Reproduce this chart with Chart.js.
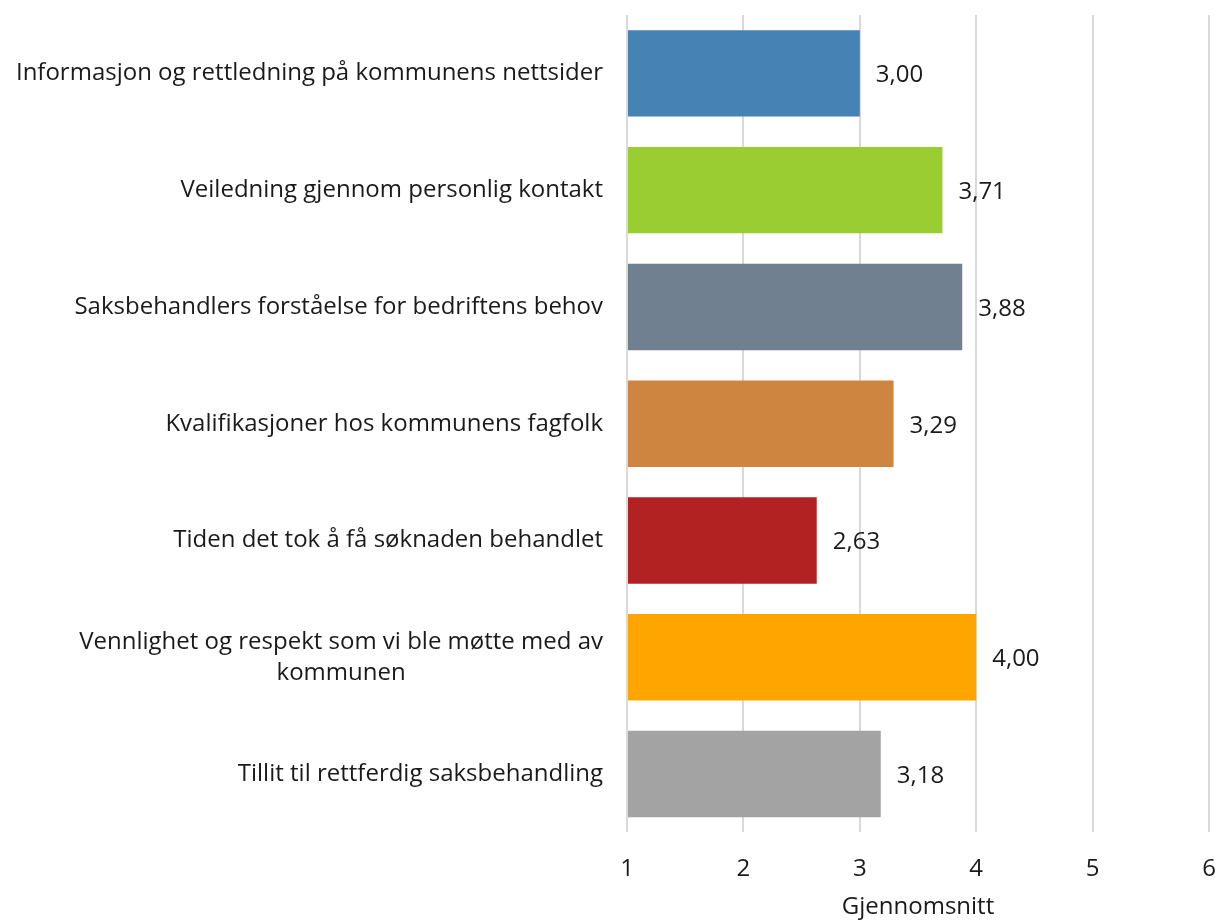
<!DOCTYPE html>
<html>
<head>
<meta charset="utf-8">
<script src="https://cdn.jsdelivr.net/npm/chart.js@4/dist/chart.umd.min.js"></script>
<style>
  html, body { margin: 0; padding: 0; background: #fff; }
  #wrap { width: 1215px; height: 922px; }
</style>
</head>
<body>
<div id="wrap"><canvas id="snittChart"></canvas></div>
<script>
// categories (multi-line labels as arrays)
var categories = [
  'Informasjon og rettledning på kommunens nettsider',
  'Veiledning gjennom personlig kontakt',
  'Saksbehandlers forståelse for bedriftens behov',
  'Kvalifikasjoner hos kommunens fagfolk',
  'Tiden det tok å få søknaden behandlet',
  ['Vennlighet og respekt som vi ble møtte med av', 'kommunen'],
  'Tillit til rettferdig saksbehandling'
];
var averages = [3.00, 3.71, 3.88, 3.29, 2.63, 4.00, 3.18];
var barColors = ['#4682B4', '#9ACD32', '#708090', '#CD853F', '#B22222', '#FFA500', '#A3A3A3'];
var xTicks = [1, 2, 3, 4, 5, 6];

var textColor = '#1a1a1a';
var fontFam = "'Open Sans', 'Liberation Sans', sans-serif";
var fontSize = 24;

// value labels to the right of each bar, "3,00" style
var valueLabels = {
  id: 'valueLabels',
  afterDatasetsDraw: function (chart) {
    var ctx = chart.ctx;
    var meta = chart.getDatasetMeta(0);
    ctx.save();
    ctx.font = fontSize + 'px ' + fontFam;
    ctx.fillStyle = textColor;
    ctx.textAlign = 'left';
    ctx.textBaseline = 'middle';
    meta.data.forEach(function (bar, i) {
      ctx.fillText(averages[i].toFixed(2).replace('.', ','), bar.x + 16, bar.y + 2);
    });
    ctx.restore();
  }
};

// category labels: right aligned block, lines centred within the block
var catLabels = {
  id: 'catLabels',
  afterDraw: function (chart) {
    var ctx = chart.ctx;
    var y = chart.scales.y;
    var right = chart.chartArea.left - 24;
    var lineH = 31;
    ctx.save();
    ctx.font = fontSize + 'px ' + fontFam;
    ctx.fillStyle = textColor;
    ctx.textAlign = 'center';
    ctx.textBaseline = 'middle';
    categories.forEach(function (lab, i) {
      var lines = Array.isArray(lab) ? lab : [lab];
      var w = 0;
      lines.forEach(function (l) { w = Math.max(w, ctx.measureText(l).width); });
      var cx = right - w / 2;
      var cy = y.getPixelForTick(i);
      var top = cy - (lines.length - 1) * lineH / 2;
      lines.forEach(function (l, k) {
        ctx.fillText(l, cx, top + k * lineH);
      });
    });
    ctx.restore();
  }
};

var ctx = document.getElementById('snittChart').getContext('2d');
var myChart = new Chart(ctx, {
  type: 'bar',
  data: {
    labels: categories,
    datasets: [{
      label: 'Gjennomsnitt',
      data: averages,
      base: 1,
      backgroundColor: barColors,
      borderWidth: 0,
      categoryPercentage: 1,
      barPercentage: 0.74
    }]
  },
  options: {
    indexAxis: 'y',
    responsive: true,
    maintainAspectRatio: false,
    animation: false,
    layout: { padding: { top: 15, right: 6, left: 0, bottom: 0 } },
    plugins: {
      legend: { display: false },
      tooltip: { enabled: false }
    },
    scales: {
      x: {
        type: 'linear',
        min: 1,
        max: 6,
        afterBuildTicks: function (scale) {
          scale.ticks = xTicks.map(function (v) { return { value: v }; });
        },
        afterFit: function (scale) {
          // let the last tick label hang into the right margin
          scale.paddingRight = 0;
          scale.paddingLeft = 0;
        },
        grid: {
          color: '#d9d9d9',
          lineWidth: 2,
          drawTicks: false
        },
        border: { display: false },
        ticks: {
          color: textColor,
          font: { size: fontSize, family: fontFam },
          padding: 22,
          maxRotation: 0
        },
        title: {
          display: true,
          text: 'Gjennomsnitt',
          color: textColor,
          font: { size: fontSize, family: fontFam },
          padding: { top: -12, bottom: 0 }
        }
      },
      y: {
        grid: { display: false },
        border: { display: false },
        ticks: { display: false },
        afterFit: function (scale) { scale.width = 627; }
      }
    }
  },
  plugins: [valueLabels, catLabels]
});
</script>
</body>
</html>
